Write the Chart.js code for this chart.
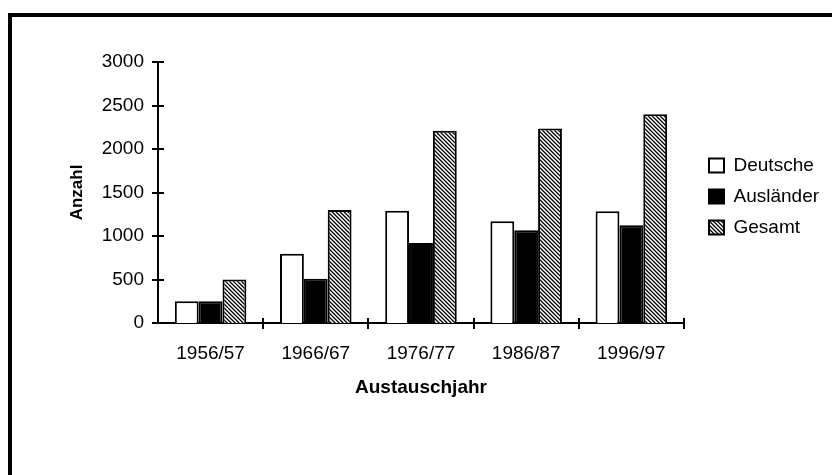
<!DOCTYPE html>
<html>
<head>
<meta charset="utf-8">
<script src="https://cdn.jsdelivr.net/npm/chart.js@4/dist/chart.umd.min.js"></script>
<style>
  html, body { margin: 0; padding: 0; background: #fff; }
  #wrap { width: 832px; height: 475px; position: relative; }
</style>
</head>
<body>
<div id="wrap"><canvas id="c" width="832" height="475"></canvas></div>
<script>
const categories = ['1956/57', '1966/67', '1976/77', '1986/87', '1996/97'];
const deutsche   = [250, 795, 1290, 1170, 1285];
const auslaender = [250, 510, 920, 1065, 1125];
const gesamt     = [500, 1300, 2210, 2235, 2400];
const seriesNames = ['Deutsche', 'Ausländer', 'Gesamt'];
const yTicks = { min: 0, max: 3000, step: 500 };
const xTitle = 'Austauschjahr';
const yTitle = 'Anzahl';

function hatch() {
  const t = document.createElement('canvas');
  t.width = 4; t.height = 4;
  const g = t.getContext('2d');
  const shades = ['#000000', '#707070', '#ffffff', '#b0b0b0'];
  for (let y = 0; y < 4; y++) {
    for (let x = 0; x < 4; x++) {
      const d = ((x - y) % 4 + 4) % 4;
      g.fillStyle = shades[d];
      g.fillRect(x, y, 1, 1);
    }
  }
  return document.getElementById('c').getContext('2d').createPattern(t, 'repeat');
}
const hatchPattern = hatch();

const FONT = "'Liberation Sans', Arial, sans-serif";

const framePlugin = {
  id: 'frame',
  beforeDraw(chart) {
    const ctx = chart.ctx;
    ctx.save();
    ctx.fillStyle = '#fff';
    ctx.fillRect(0, 0, chart.width, chart.height);
    ctx.fillStyle = '#000';
    ctx.fillRect(8, 13, chart.width - 8, 4);
    ctx.fillRect(8, 13, 4, chart.height - 13);
    ctx.restore();
  }
};

const crossTicks = {
  id: 'crossTicks',
  afterDraw(chart) {
    const ctx = chart.ctx;
    const xs = chart.scales.x, ys = chart.scales.y;
    ctx.save();
    ctx.strokeStyle = '#000';
    ctx.lineWidth = 2;
    ctx.beginPath();
    ys.ticks.forEach((t, i) => {
      const py = Math.round(ys.getPixelForTick(i));
      ctx.moveTo(xs.left - 6, py);
      ctx.lineTo(xs.left + 6, py);
    });
    for (let i = 1; i <= categories.length; i++) {
      const px = Math.round(xs.getPixelForValue(i - 0.5));
      ctx.moveTo(px, ys.bottom - 5);
      ctx.lineTo(px, ys.bottom + 6);
    }
    ctx.stroke();
    ctx.restore();
  }
};

const legendShift = {
  id: 'legendShift',
  afterLayout(chart) {
    const lg = chart.legend;
    if (!lg) return;
    const dx = 697 - lg.left;
    lg.left += dx; lg.right += dx;
    lg.top += 4; lg.bottom += 4;
  }
};

new Chart(document.getElementById('c'), {
  type: 'bar',
  data: {
    labels: categories,
    datasets: [
      { label: seriesNames[0], data: deutsche, backgroundColor: '#ffffff', borderColor: '#000', borderWidth: 2 },
      { label: seriesNames[1], data: auslaender, backgroundColor: '#000000', borderColor: '#000', borderWidth: 2 },
      { label: seriesNames[2], data: gesamt, backgroundColor: hatchPattern, borderColor: '#000', borderWidth: 2 }
    ]
  },
  plugins: [framePlugin, crossTicks, legendShift],
  options: {
    responsive: false,
    animation: false,
    devicePixelRatio: 1,
    layout: { padding: { left: 67, top: 62, right: 16, bottom: 76 } },
    datasets: { bar: { categoryPercentage: 0.68, barPercentage: 1.0, borderSkipped: 'bottom' } },
    plugins: {
      tooltip: { enabled: false },
      legend: {
        position: 'right',
        fullSize: false,
        align: 'center',
        labels: {
          boxWidth: 15, boxHeight: 14, padding: 12, color: '#000',
          font: { family: FONT, size: 19 }
        }
      }
    },
    scales: {
      x: {
        offset: true,
        grid: { display: false },
        border: { display: true, color: '#000', width: 2 },
        ticks: { color: '#000', padding: 11, font: { family: FONT, size: 19 }, maxRotation: 0 },
        title: { display: true, text: xTitle, color: '#000', padding: { top: 0, bottom: 0 },
                 font: { family: FONT, size: 19, weight: 'bold' } },
        afterFit(scale) { scale.height = 76; }
      },
      y: {
        min: yTicks.min, max: yTicks.max,
        grid: { display: false },
        border: { display: true, color: '#000', width: 2 },
        ticks: { stepSize: yTicks.step, color: '#000', padding: 6, font: { family: FONT, size: 19 },
                 callback: (v) => String(v) },
        title: { display: true, text: yTitle, color: '#000', padding: { top: 0, bottom: 0 },
                 font: { family: FONT, size: 17, weight: 'bold' } },
        afterFit(scale) { scale.width = 91; }
      }
    }
  }
});
</script>
</body>
</html>
